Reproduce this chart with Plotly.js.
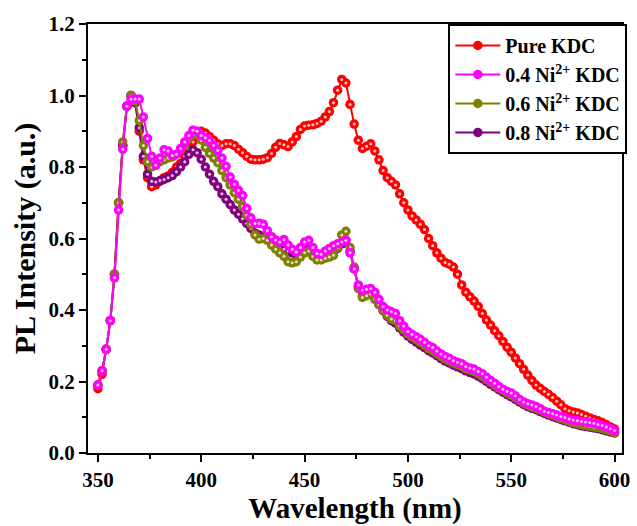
<!DOCTYPE html>
<html>
<head>
<meta charset="utf-8">
<script src="https://cdn.plot.ly/plotly-3.0.1.min.js"></script>
<style>html,body{margin:0;padding:0;background:#fff;}#chart{width:637px;height:526px;}</style>
</head>
<body>
<div id="chart"></div>
<script>
const wavelength = [350,352,354,356,358,360,362,364,366,368,
370,372,374,376,378,380,382,384,386,388,
390,392,394,396,398,400,402,404,406,408,
410,412,414,416,418,420,422,424,426,428,
430,432,434,436,438,440,442,444,446,448,
450,452,454,456,458,460,462,464,466,468,
470,472,474,476,478,480,482,484,486,488,
490,492,494,496,498,500,502,504,506,508,
510,512,514,516,518,520,522,524,526,528,
530,532,534,536,538,540,542,544,546,548,
550,552,554,556,558,560,562,564,566,568,
570,572,574,576,578,580,582,584,586,588,
590,592,594,596,598,600];

const pureKDC = [0.18,0.22,0.29,0.37,0.50,0.70,0.86,0.97,1.00,0.98,
0.90,0.82,0.77,0.745,0.75,0.76,0.77,0.775,0.785,0.80,
0.81,0.83,0.85,0.87,0.89,0.90,0.895,0.885,0.875,0.865,
0.86,0.865,0.865,0.86,0.85,0.84,0.83,0.822,0.82,0.82,
0.822,0.826,0.838,0.855,0.866,0.862,0.857,0.87,0.885,0.905,
0.915,0.917,0.918,0.922,0.928,0.94,0.955,0.98,1.015,1.045,
1.035,0.975,0.92,0.875,0.852,0.858,0.865,0.845,0.82,0.79,
0.77,0.76,0.75,0.725,0.70,0.68,0.663,0.652,0.64,0.625,
0.60,0.58,0.56,0.545,0.533,0.528,0.52,0.50,0.47,0.45,
0.437,0.425,0.41,0.39,0.372,0.358,0.342,0.328,0.312,0.296,
0.282,0.266,0.25,0.234,0.218,0.203,0.19,0.181,0.172,0.164,
0.155,0.145,0.135,0.124,0.118,0.115,0.112,0.108,0.103,0.098,
0.094,0.09,0.085,0.079,0.073,0.067];

const ni04KDC = [0.19,0.23,0.29,0.37,0.49,0.68,0.85,0.97,0.99,0.99,
0.99,0.94,0.88,0.83,0.805,0.825,0.848,0.845,0.832,0.836,
0.852,0.87,0.888,0.903,0.90,0.888,0.882,0.874,0.86,0.846,
0.825,0.802,0.772,0.752,0.735,0.72,0.684,0.658,0.642,0.643,
0.64,0.622,0.605,0.596,0.59,0.597,0.582,0.57,0.562,0.575,
0.59,0.595,0.575,0.558,0.556,0.565,0.572,0.58,0.585,0.59,
0.595,0.56,0.515,0.47,0.455,0.458,0.46,0.45,0.43,0.41,
0.40,0.395,0.39,0.37,0.355,0.34,0.332,0.325,0.318,0.31,
0.30,0.295,0.285,0.277,0.27,0.265,0.258,0.254,0.25,0.242,
0.238,0.235,0.228,0.222,0.212,0.203,0.195,0.186,0.178,0.172,
0.168,0.16,0.15,0.143,0.138,0.134,0.13,0.124,0.117,0.113,
0.11,0.106,0.102,0.099,0.095,0.092,0.09,0.088,0.087,0.085,
0.083,0.08,0.077,0.073,0.068,0.063];

const ni06KDC = [0.19,0.23,0.29,0.37,0.50,0.70,0.87,0.97,1.00,0.985,
0.93,0.86,0.815,0.80,0.805,0.815,0.82,0.825,0.828,0.835,
0.848,0.862,0.878,0.89,0.893,0.875,0.855,0.838,0.825,0.812,
0.79,0.77,0.75,0.728,0.71,0.69,0.665,0.64,0.61,0.598,
0.60,0.595,0.582,0.57,0.56,0.55,0.535,0.532,0.535,0.548,
0.56,0.565,0.55,0.54,0.54,0.545,0.548,0.553,0.575,0.61,
0.62,0.575,0.52,0.46,0.435,0.44,0.445,0.43,0.415,0.40,
0.385,0.375,0.37,0.355,0.345,0.333,0.325,0.317,0.31,0.302,
0.292,0.286,0.278,0.27,0.263,0.258,0.252,0.247,0.243,0.236,
0.232,0.228,0.222,0.215,0.206,0.198,0.19,0.182,0.175,0.168,
0.162,0.155,0.147,0.14,0.134,0.129,0.125,0.12,0.115,0.11,
0.106,0.102,0.097,0.093,0.089,0.085,0.082,0.079,0.077,0.075,
0.073,0.071,0.068,0.065,0.062,0.058];

const ni08KDC = [0.19,0.23,0.29,0.37,0.50,0.70,0.86,0.97,1.00,0.98,
0.91,0.83,0.78,0.76,0.758,0.762,0.765,0.77,0.776,0.787,
0.80,0.815,0.835,0.848,0.84,0.822,0.80,0.78,0.76,0.745,
0.725,0.71,0.695,0.68,0.668,0.655,0.642,0.628,0.615,0.61,
0.605,0.598,0.59,0.58,0.572,0.57,0.565,0.56,0.555,0.56,
0.565,0.57,0.56,0.552,0.55,0.552,0.556,0.562,0.572,0.585,
0.595,0.565,0.515,0.465,0.44,0.442,0.445,0.432,0.415,0.398,
0.382,0.37,0.363,0.35,0.338,0.327,0.318,0.31,0.302,0.295,
0.286,0.28,0.272,0.264,0.257,0.252,0.246,0.241,0.236,0.23,
0.225,0.221,0.215,0.208,0.20,0.192,0.185,0.177,0.17,0.163,
0.157,0.15,0.143,0.136,0.13,0.125,0.121,0.116,0.111,0.106,
0.102,0.098,0.094,0.09,0.086,0.082,0.079,0.076,0.074,0.072,
0.07,0.068,0.065,0.062,0.059,0.056];

const seriesNames = ['Pure KDC', '0.4 Ni<sup>2+</sup> KDC', '0.6 Ni<sup>2+</sup> KDC', '0.8 Ni<sup>2+</sup> KDC'];
const seriesColors = ['#ff0000', '#ff00ff', '#808000', '#800080'];
const seriesData = [pureKDC, ni04KDC, ni06KDC, ni08KDC];
const drawOrder = [0, 3, 2, 1];

const traces = [];
drawOrder.forEach(i => {
  traces.push({
    x: wavelength, y: seriesData[i], type: 'scatter', mode: 'lines+markers',
    name: seriesNames[i], legendrank: i + 1,
    line: {color: seriesColors[i], width: 2},
    marker: {color: seriesColors[i], size: 9.5, symbol: 'circle', line: {width: 0}}
  });
  traces.push({
    x: wavelength, y: seriesData[i], type: 'scatter', mode: 'markers',
    showlegend: false, hoverinfo: 'skip',
    marker: {color: 'rgba(255,230,240,0.85)', size: 3, line: {width: 0}}
  });
});

const fontFam = '"Liberation Serif", "Times New Roman", serif';
const layout = {
  width: 637, height: 526,
  margin: {l: 88, r: 10, t: 24, b: 73},
  paper_bgcolor: '#fff', plot_bgcolor: '#fff',
  font: {family: fontFam, color: '#000', size: 21, weight: 'bold'},
  showlegend: true,
  xaxis: {
    range: [345.2, 603.6], tickvals: [350, 400, 450, 500, 550, 600],
    ticks: 'outside', ticklen: 7, tickwidth: 2, tickcolor: '#000',
    minor: {dtick: 25, tick0: 350, ticks: 'outside', ticklen: 4, tickwidth: 2, tickcolor: '#000'},
    showline: true, linewidth: 2, linecolor: '#000', mirror: true,
    showgrid: false, zeroline: false,
    tickfont: {family: fontFam, size: 21, weight: 'bold', color: '#000'},
    title: {text: 'Wavelength (nm)', font: {family: fontFam, size: 29, weight: 'bold', color: '#000'}, standoff: 6}
  },
  yaxis: {
    range: [0, 1.2], dtick: 0.2, tick0: 0, tickformat: '.1f',
    ticks: 'outside', ticklen: 7, tickwidth: 2, tickcolor: '#000',
    minor: {dtick: 0.1, ticks: 'outside', ticklen: 4, tickwidth: 2, tickcolor: '#000'},
    showline: true, linewidth: 2, linecolor: '#000', mirror: true,
    showgrid: false, zeroline: false,
    tickfont: {family: fontFam, size: 21, weight: 'bold', color: '#000'},
    title: {text: 'PL Intensity (a.u.)', font: {family: fontFam, size: 30, weight: 'bold', color: '#000'}, standoff: 4}
  },
  legend: {
    x: 1.01, xanchor: 'right', y: 1, yanchor: 'top',
    bgcolor: '#fff', bordercolor: '#000', borderwidth: 2,
    font: {family: fontFam, size: 20, weight: 'bold', color: '#000'},
    itemwidth: 45, tracegroupgap: 0
  }
};

Plotly.newPlot('chart', traces, layout, {displayModeBar: false, staticPlot: true});
</script>
</body>
</html>
